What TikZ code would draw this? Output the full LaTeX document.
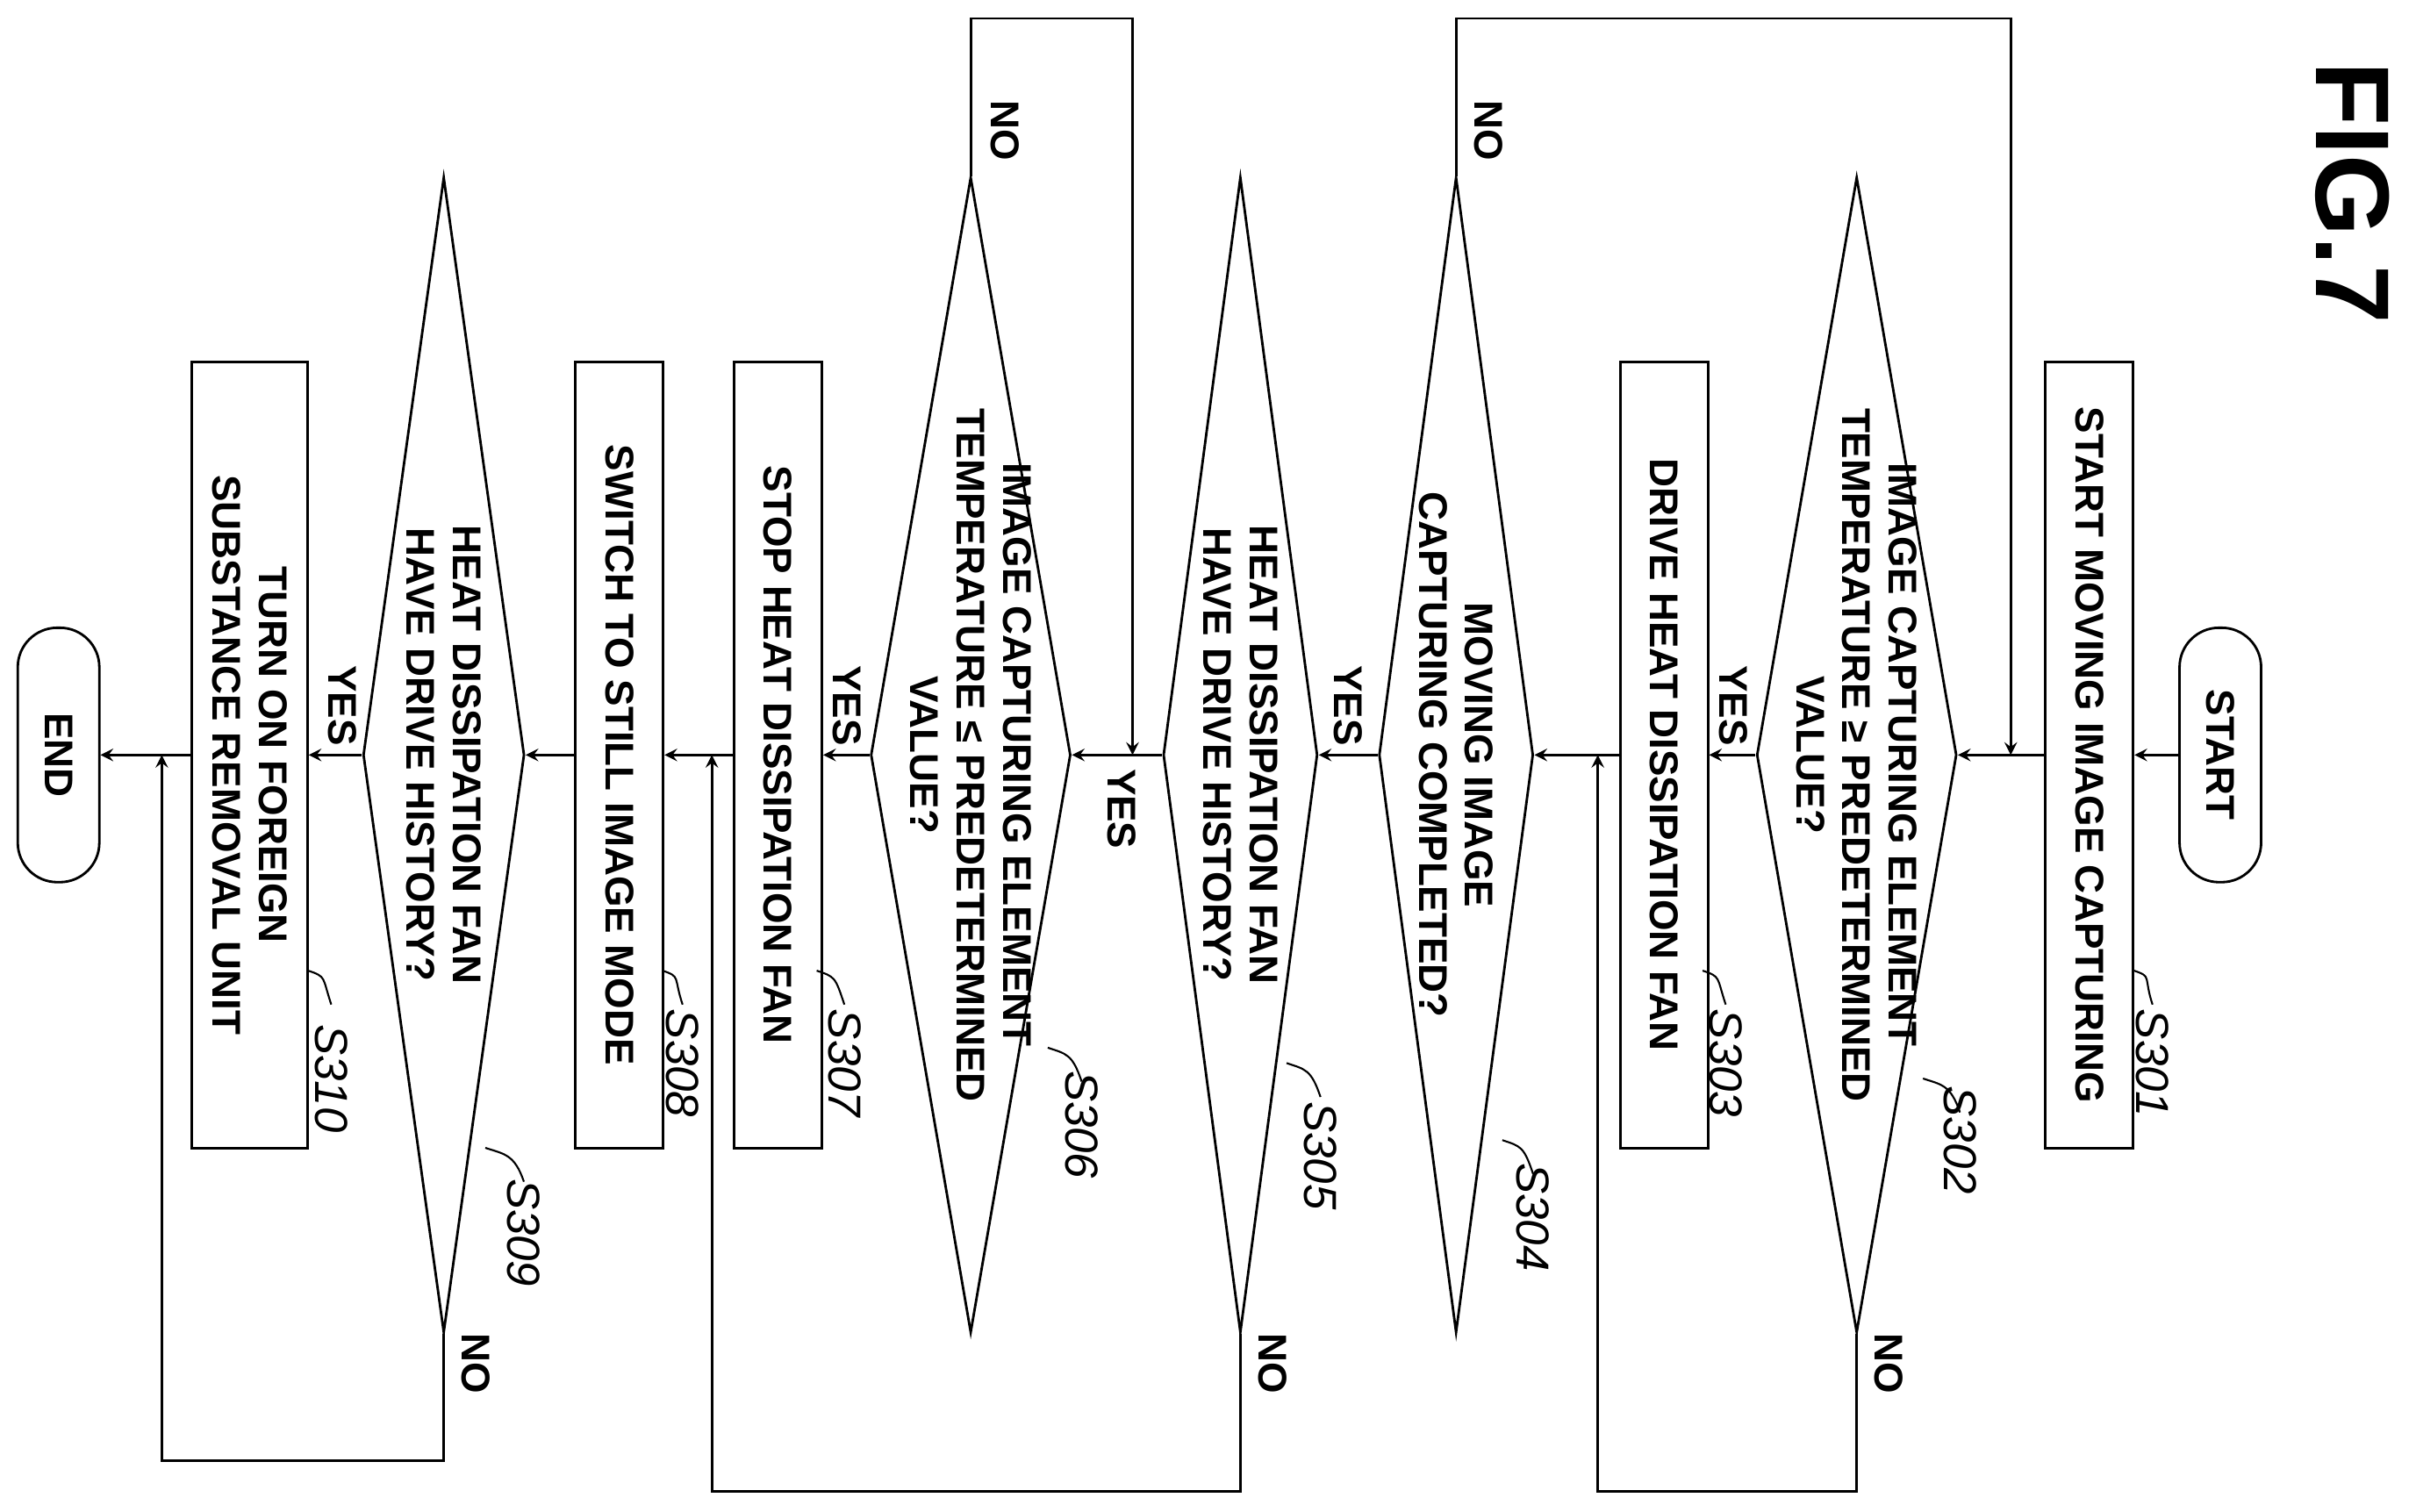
\documentclass[tikz,border=0pt]{standalone}
\usepackage{fontspec}
\setmainfont{Liberation Sans}
\usetikzlibrary{shapes.geometric,positioning}
\tikzset{
  every node/.style={font=\fontsize{13}{15}\selectfont\bfseries},
  process/.style={draw, rotate=-90, minimum width=8.96cm, minimum height=1cm, align=center},
  term/.style={draw, rotate=-90, rounded corners=0.45cm, minimum width=2.9cm, minimum height=0.93cm},
  test/.style={draw, diamond, rotate=-90, inner sep=0pt, minimum width=13.17cm},
  tag/.style={rotate=-90, font=\fontsize{15}{17}\selectfont\itshape},
  lbl/.style={rotate=-90, align=center}
}
\begin{document}
\begin{tikzpicture}[x=0.01756cm, y=-0.01756cm, >=stealth, line width=0.8pt]
\useasboundingbox (0,0) rectangle (1568,981);

\node [rotate=-90, font=\fontsize{34}{36}\selectfont\bfseries] (fig) at (1527,125) {FIG.7};

\node [term] (start) at (1441,490) {START};
\node [process] (s301) at (1356,490) {START MOVING IMAGE CAPTURING};
\node [test, minimum height=2.28cm] (s302) at (1205,490) {};
\node [lbl] at (s302) {IMAGE CAPTURING ELEMENT\\TEMPERATURE ≥ PREDETERMINED\\VALUE?};
\node [process] (s303) at (1080,490) {DRIVE HEAT DISSIPATION FAN};
\node [test, minimum height=1.76cm] (s304) at (945,490) {};
\node [lbl] at (s304) {MOVING IMAGE\\CAPTURING COMPLETED?};
\node [test, minimum height=1.76cm] (s305) at (805,490) {};
\node [lbl] at (s305) {HEAT DISSIPATION FAN\\HAVE DRIVE HISTORY?};
\node [test, minimum height=2.28cm] (s306) at (630,490) {};
\node [lbl] at (s306) {IMAGE CAPTURING ELEMENT\\TEMPERATURE ≤ PREDETERMINED\\VALUE?};
\node [process] (s307) at (505,490) {STOP HEAT DISSIPATION FAN};
\node [process] (s308) at (402,490) {SWITCH TO STILL IMAGE MODE};
\node [test, minimum height=1.84cm] (s309) at (288,490) {};
\node [lbl] at (s309) {HEAT DISSIPATION FAN\\HAVE DRIVE HISTORY?};
\node [process, minimum height=1.32cm] (s310) at (162,490) {TURN ON FOREIGN\\SUBSTANCE REMOVAL UNIT};
\node [term] (end) at (38,490) {END};

% junctions of the loops
\coordinate (j302) at (1037,490);
\coordinate (j304) at (1305,490);
\coordinate (j305) at (462,490);
\coordinate (j306) at (735,490);
\coordinate (j309) at (105,490);

% main flow
\draw [->] (start) -- (s301);
\draw [->] (s301) -- (s302);
\draw [->] (s302) -- (s303);
\draw [->] (s303) -- (s304);
\draw [->] (s304) -- (s305);
\draw [->] (s305) -- (s306);
\draw [->] (s306) -- (s307);
\draw [->] (s307) -- (s308);
\draw [->] (s308) -- (s309);
\draw [->] (s309) -- (s310);
\draw [->] (s310) -- (end);

% NO branches
\draw [->] (s302.east) -- (1205,968) -| (j302);
\draw [->] (s304.west) -- (945,12) -| (j304);
\draw [->] (s305.east) -- (805,968) -| (j305);
\draw [->] (s306.west) -- (630,12) -| (j306);
\draw [->] (s309.east) -- (288,948) -| (j309);

\node [lbl] at (1226,885) {NO};
\node [lbl] at (966,85) {NO};
\node [lbl] at (826,885) {NO};
\node [lbl] at (652,85) {NO};
\node [lbl] at (309,885) {NO};

\node [lbl] at (1125,458) {YES};
\node [lbl] at (875,458) {YES};
\node [lbl] at (728,525) {YES};
\node [lbl] at (550,458) {YES};
\node [lbl] at (222,458) {YES};

% step tags
\foreach \t/\x/\y/\fx/\fy in {S301/1397/690/1385/630, S302/1272/740/1248/700,
  S303/1120/690/1105/630, S304/995/790/975/740, S305/857/750/835/690,
  S306/702/730/680/680, S307/548/690/530/630, S308/443/690/430/630,
  S309/340/800/315/745, S310/215/700/200/630}
{
  \node [tag] (tag-\t) at (\x,\y) {\t};
  \draw [line width=0.6pt] (\fx,\fy) .. controls (\fx+12,\fy+4) and (\x-6,\fy+4) .. (\x,\fy+22);
}
\end{tikzpicture}
\end{document}
